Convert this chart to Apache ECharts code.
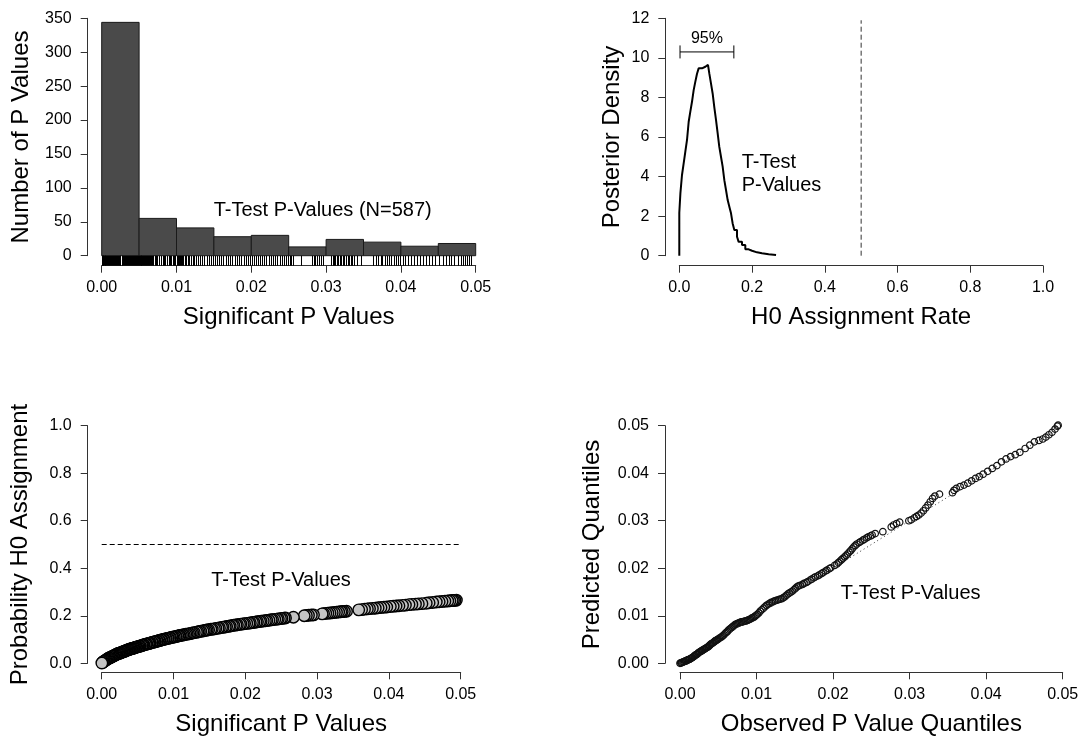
<!DOCTYPE html>
<html>
<head>
<meta charset="utf-8">
<title>P-value analysis</title>
<script src="https://cdn.jsdelivr.net/npm/echarts@6/dist/echarts.min.js"></script>
<style>
html, body { margin: 0; padding: 0; background: #fff; }
#main { width: 1082px; height: 736px; }
</style>
</head>
<body>
<div id="main"></div>
<script>
// histogram of significant p values
var binEdges = [0, 0.005, 0.01, 0.015, 0.02, 0.025, 0.03, 0.035, 0.04, 0.045, 0.05];
var binCounts = [344, 55, 41, 28, 30, 13, 24, 20, 14, 18];

// rug under the histogram (individual p values)
var rugP = [
    0.00002, 0.00008, 0.00015, 0.00021, 0.00030, 0.00041, 0.00050, 0.00063, 0.00072, 0.00085,
    0.00097, 0.00110, 0.00121, 0.00136, 0.00149, 0.00160, 0.00173, 0.00188, 0.00199, 0.00212,
    0.00226, 0.00238, 0.00251, 0.00265, 0.00277, 0.00290, 0.00304, 0.00316, 0.00329, 0.00343,
    0.00356, 0.00368, 0.00381, 0.00395, 0.00408, 0.00421, 0.00433, 0.00447, 0.00459, 0.00472,
    0.00486, 0.00498,
    0.00508, 0.00519, 0.00531, 0.00544, 0.00556, 0.00567, 0.00581, 0.00594, 0.00605, 0.00619,
    0.00633, 0.00648, 0.00662, 0.00675, 0.00690, 0.00712, 0.00728, 0.00745, 0.00768, 0.00790,
    0.00822, 0.00835, 0.00851, 0.00872, 0.00895, 0.00916, 0.00931, 0.00948, 0.00967, 0.00985,
    0.01003, 0.01018, 0.01031, 0.01046, 0.01062, 0.01079, 0.01093, 0.01112, 0.01131, 0.01150,
    0.01172, 0.01195, 0.01216, 0.01240, 0.01262, 0.01290, 0.01315, 0.01342, 0.01370, 0.01402,
    0.01431, 0.01463, 0.01488,
    0.01512, 0.01540, 0.01572, 0.01601, 0.01626, 0.01660, 0.01689, 0.01712, 0.01745, 0.01778,
    0.01806, 0.01838, 0.01867, 0.01896, 0.01928, 0.01955, 0.01984,
    0.02008, 0.02035, 0.02061, 0.02093, 0.02118, 0.02146, 0.02172, 0.02201, 0.02232, 0.02258,
    0.02290, 0.02318, 0.02347, 0.02381, 0.02412, 0.02440, 0.02468, 0.02490,
    0.02512, 0.02535, 0.02559, 0.02668, 0.02816, 0.02834, 0.02852, 0.02875, 0.02903, 0.02938,
    0.02955,
    0.03072, 0.03090, 0.03105, 0.03121, 0.03143, 0.03162, 0.03180, 0.03204, 0.03222, 0.03245,
    0.03268, 0.03289, 0.03310, 0.03331, 0.03352, 0.03378, 0.03412, 0.03462,
    0.03632, 0.03661, 0.03695, 0.03728, 0.03754, 0.03786, 0.03812, 0.03847, 0.03871, 0.03905,
    0.03938, 0.03966, 0.03992,
    0.04025, 0.04061, 0.04098, 0.04136, 0.04172, 0.04215, 0.04251, 0.04290, 0.04332, 0.04371,
    0.04418, 0.04462,
    0.04512, 0.04560, 0.04598, 0.04641, 0.04676, 0.04712, 0.04760, 0.04802, 0.04836, 0.04861,
    0.04890, 0.04915, 0.04941
];

// posterior density of the H0 assignment rate (step line)
var densityX = [0, 0, 0.003, 0.0074, 0.012, 0.0166, 0.0212, 0.0258, 0.0303, 0.0349, 0.0395,
    0.0441, 0.0487, 0.0532, 0.0578, 0.0624, 0.067, 0.0716, 0.0789, 0.0826, 0.0872, 0.0917,
    0.0963, 0.1009, 0.1055, 0.11, 0.1146, 0.1192, 0.1238, 0.1284, 0.133, 0.1376, 0.1422,
    0.1467, 0.1513, 0.1587, 0.1632, 0.1724, 0.1815, 0.1907, 0.1999, 0.2137, 0.2274, 0.2457, 0.266];
var densityY = [0, 2.17, 3.15, 4.08, 4.67, 5.26, 5.85, 6.77, 7.28, 7.78, 8.37,
    8.8, 9.2, 9.47, 9.47, 9.55, 9.55, 9.65, 9.72, 9.2, 8.7, 8.2,
    7.5, 6.86, 6.18, 5.5, 5.0, 4.5, 3.82, 3.32, 2.81, 2.48, 2.14,
    1.63, 1.3, 0.96, 0.7, 0.54, 0.32, 0.25, 0.17, 0.12, 0.07, 0.03, 0.01];
var ciInterval = [0.002, 0.150];
var ciHeight = 10.3;
var refRate = 0.5;

// probability of H0 assignment per p value
var h0Points = [
    [0.00002, 0.001], [0.0001, 0.003], [0.0002, 0.006], [0.0003, 0.008], [0.0004, 0.010],
    [0.0005, 0.012], [0.0006, 0.014], [0.0007, 0.016], [0.0008, 0.018], [0.0009, 0.020],
    [0.0010, 0.022], [0.0011, 0.023], [0.0012, 0.025], [0.0013, 0.026], [0.0014, 0.028],
    [0.0015, 0.029], [0.0016, 0.031], [0.0017, 0.032], [0.0018, 0.034], [0.0019, 0.035],
    [0.0020, 0.037], [0.0021, 0.038], [0.0022, 0.040], [0.0023, 0.041], [0.0024, 0.042],
    [0.0025, 0.043], [0.0026, 0.044], [0.0027, 0.045], [0.0028, 0.047], [0.0029, 0.048],
    [0.0030, 0.049], [0.0031, 0.050], [0.0032, 0.051], [0.0033, 0.052], [0.0034, 0.054],
    [0.0035, 0.055], [0.0036, 0.056], [0.0037, 0.057], [0.0038, 0.058], [0.0039, 0.059],
    [0.0040, 0.060], [0.0041, 0.061], [0.0042, 0.062], [0.0043, 0.063], [0.0044, 0.064],
    [0.0045, 0.065], [0.0046, 0.066], [0.0047, 0.067], [0.0048, 0.068], [0.0049, 0.069],
    [0.00505, 0.070], [0.0052, 0.072], [0.0053, 0.072], [0.0054, 0.073], [0.0056, 0.075],
    [0.0057, 0.076], [0.0058, 0.077], [0.0059, 0.078], [0.0061, 0.080], [0.0062, 0.080],
    [0.0063, 0.081], [0.0065, 0.083], [0.0066, 0.084], [0.0067, 0.085], [0.0068, 0.086],
    [0.0070, 0.088], [0.0071, 0.088], [0.0073, 0.090], [0.0074, 0.091], [0.0075, 0.091],
    [0.0077, 0.093], [0.0078, 0.094], [0.0080, 0.096], [0.0081, 0.096], [0.0083, 0.098],
    [0.0084, 0.099], [0.0086, 0.100], [0.0087, 0.101], [0.0089, 0.103], [0.0090, 0.104],
    [0.0092, 0.105], [0.0093, 0.106], [0.0095, 0.107], [0.0096, 0.108], [0.0098, 0.110],
    [0.0099, 0.110],
    [0.0101, 0.111], [0.0103, 0.113], [0.0104, 0.113], [0.0106, 0.115], [0.0108, 0.116],
    [0.0109, 0.117], [0.0111, 0.118], [0.0113, 0.119], [0.0115, 0.120], [0.0117, 0.122],
    [0.0119, 0.123], [0.0121, 0.124], [0.0123, 0.125], [0.0125, 0.127], [0.0127, 0.128],
    [0.0129, 0.129], [0.0132, 0.131], [0.0134, 0.132], [0.0136, 0.134], [0.0138, 0.135],
    [0.0141, 0.136], [0.0143, 0.138], [0.0145, 0.139], [0.0147, 0.140], [0.0149, 0.141],
    [0.0152, 0.143], [0.0154, 0.144], [0.0157, 0.145], [0.0159, 0.147], [0.0162, 0.148],
    [0.0164, 0.149], [0.0167, 0.151], [0.0169, 0.152], [0.0172, 0.153], [0.0174, 0.155],
    [0.0177, 0.156], [0.0179, 0.157], [0.0182, 0.159], [0.0184, 0.160], [0.0187, 0.161],
    [0.0189, 0.162], [0.0192, 0.164], [0.0194, 0.165], [0.0197, 0.166], [0.0199, 0.167],
    [0.0202, 0.168], [0.0205, 0.169], [0.0207, 0.170], [0.0210, 0.172], [0.0212, 0.172],
    [0.0215, 0.174], [0.0217, 0.175], [0.0220, 0.176], [0.0222, 0.177], [0.0225, 0.178],
    [0.0228, 0.179], [0.0230, 0.180], [0.0233, 0.181], [0.0236, 0.183], [0.0238, 0.184],
    [0.0241, 0.185], [0.0244, 0.186], [0.0246, 0.187], [0.0249, 0.188],
    [0.0251, 0.189], [0.0254, 0.190], [0.0256, 0.191], [0.0267, 0.194], [0.0282, 0.200],
    [0.0285, 0.201], [0.0288, 0.202], [0.0292, 0.203], [0.0295, 0.204], [0.0307, 0.208],
    [0.0309, 0.209], [0.0312, 0.210], [0.0315, 0.211], [0.0318, 0.212], [0.0321, 0.213],
    [0.0324, 0.214], [0.0327, 0.215], [0.0330, 0.216], [0.0333, 0.217], [0.0335, 0.218],
    [0.0338, 0.218], [0.0341, 0.219], [0.0358, 0.225], [0.0362, 0.226], [0.0366, 0.228],
    [0.0370, 0.229], [0.0373, 0.230], [0.0377, 0.231], [0.0381, 0.232], [0.0385, 0.234],
    [0.0389, 0.235], [0.0393, 0.236], [0.0397, 0.237], [0.0402, 0.239], [0.0406, 0.240],
    [0.0410, 0.241], [0.0414, 0.242], [0.0419, 0.244], [0.0423, 0.245], [0.0428, 0.247],
    [0.0432, 0.248], [0.0437, 0.249], [0.0441, 0.250], [0.0446, 0.251], [0.0452, 0.253],
    [0.0456, 0.255], [0.0461, 0.256], [0.0466, 0.258], [0.0470, 0.259], [0.0474, 0.260],
    [0.0478, 0.261], [0.0482, 0.262], [0.0485, 0.263], [0.0488, 0.264], [0.0490, 0.265],
    [0.0492, 0.265], [0.0494, 0.266]
];

// observed vs predicted quantiles
var qqPoints = [
    [0.0000, 0.0000], [0.0001, 0.0001], [0.0002, 0.0001], [0.0003, 0.0002], [0.0004, 0.0003],
    [0.0005, 0.0003], [0.0006, 0.0004], [0.0007, 0.0005], [0.0008, 0.0005], [0.0009, 0.0006],
    [0.0010, 0.0007], [0.0011, 0.0008], [0.0012, 0.0008], [0.0013, 0.0009], [0.0014, 0.0010],
    [0.0015, 0.0011], [0.0016, 0.0012], [0.0017, 0.0013], [0.0018, 0.0014], [0.0019, 0.0016],
    [0.0020, 0.0017], [0.0021, 0.0018], [0.0022, 0.0019], [0.0023, 0.0020], [0.0024, 0.0022],
    [0.0025, 0.0023], [0.0026, 0.0024], [0.0027, 0.0025], [0.0028, 0.0026], [0.0029, 0.0027],
    [0.0030, 0.0028], [0.0031, 0.0029], [0.0032, 0.0030], [0.0033, 0.0031], [0.0034, 0.0032],
    [0.0035, 0.0033], [0.0036, 0.0034], [0.0037, 0.0035], [0.0038, 0.0037], [0.0039, 0.0038],
    [0.0040, 0.0040], [0.0041, 0.0041], [0.0042, 0.0042], [0.0043, 0.0043], [0.0044, 0.0044],
    [0.0045, 0.0046], [0.0046, 0.0047], [0.0047, 0.0048], [0.0048, 0.0049], [0.0049, 0.0050],
    [0.0050, 0.0051], [0.00515, 0.0053], [0.0053, 0.0054], [0.00545, 0.0056], [0.0056, 0.0058],
    [0.00575, 0.0060], [0.0059, 0.0063], [0.00605, 0.0065], [0.0062, 0.0067], [0.00635, 0.0070],
    [0.0065, 0.0072], [0.00665, 0.0074], [0.0068, 0.0076], [0.00695, 0.0078], [0.0071, 0.0080],
    [0.00725, 0.0082], [0.0074, 0.0083], [0.00755, 0.0084], [0.0077, 0.0085], [0.00785, 0.0086],
    [0.0080, 0.0087], [0.00815, 0.0087], [0.0083, 0.0088], [0.00845, 0.0089], [0.0086, 0.0089],
    [0.00875, 0.0090], [0.0089, 0.0091], [0.00905, 0.0092], [0.0092, 0.0093], [0.00935, 0.0095],
    [0.0095, 0.0096], [0.00965, 0.0097], [0.0098, 0.0099], [0.00995, 0.0101],
    [0.0101, 0.0103], [0.0103, 0.0106], [0.0105, 0.0110], [0.0107, 0.0113], [0.0109, 0.0116],
    [0.0111, 0.0119], [0.0113, 0.0122], [0.0115, 0.0124], [0.0117, 0.0126], [0.0119, 0.0128],
    [0.0121, 0.0129], [0.0123, 0.0131], [0.0125, 0.0132], [0.0127, 0.0133], [0.0129, 0.0134],
    [0.0131, 0.0135], [0.0133, 0.0136], [0.0135, 0.0138], [0.0137, 0.0140], [0.0139, 0.0143],
    [0.0141, 0.0146], [0.0143, 0.0148], [0.0145, 0.0150], [0.0147, 0.0152], [0.0149, 0.0155],
    [0.0151, 0.0158], [0.0153, 0.0161], [0.0155, 0.0163], [0.0157, 0.0164], [0.0160, 0.0166],
    [0.0162, 0.0168], [0.0165, 0.0170], [0.0167, 0.0172], [0.0170, 0.0175], [0.0172, 0.0177],
    [0.0175, 0.0180], [0.0177, 0.0182], [0.0180, 0.0184], [0.0182, 0.0186], [0.0185, 0.0189],
    [0.0187, 0.0191], [0.0190, 0.0194], [0.0192, 0.0196], [0.0195, 0.0199], [0.0197, 0.0201],
    [0.0202, 0.0206], [0.0205, 0.0209], [0.0207, 0.0212], [0.0209, 0.0215], [0.0211, 0.0218],
    [0.0213, 0.0221], [0.0215, 0.0224], [0.0217, 0.0227], [0.0219, 0.0230], [0.0221, 0.0234],
    [0.0223, 0.0237], [0.0225, 0.0241], [0.0227, 0.0245], [0.0229, 0.0248], [0.0231, 0.0251],
    [0.0234, 0.0254], [0.0236, 0.0256], [0.0239, 0.0259], [0.0241, 0.0261], [0.0244, 0.0264],
    [0.0246, 0.0266], [0.0249, 0.0268], [0.0251, 0.0270], [0.0255, 0.0273], [0.0265, 0.0277],
    [0.0276, 0.0287], [0.0279, 0.0291], [0.0283, 0.0294], [0.0287, 0.0297], [0.0299, 0.0300],
    [0.0302, 0.0302], [0.0306, 0.0306], [0.0309, 0.0309], [0.0312, 0.0312], [0.0315, 0.0316],
    [0.0318, 0.0321], [0.0321, 0.0327], [0.0324, 0.0333], [0.0327, 0.0340], [0.0330, 0.0347],
    [0.0333, 0.0352], [0.0339, 0.0356], [0.0356, 0.0359], [0.0358, 0.0364], [0.0361, 0.0368],
    [0.0366, 0.0372], [0.0371, 0.0375], [0.0376, 0.0379], [0.0381, 0.0384], [0.0386, 0.0389],
    [0.0391, 0.0393], [0.0396, 0.0398], [0.0402, 0.0404], [0.0408, 0.0410], [0.0414, 0.0416],
    [0.0420, 0.0424], [0.0426, 0.0430], [0.0432, 0.0435], [0.0438, 0.0439], [0.0444, 0.0444],
    [0.0451, 0.0452], [0.0457, 0.0459], [0.0463, 0.0466], [0.0469, 0.0469], [0.0474, 0.0472],
    [0.0478, 0.0476], [0.0482, 0.0481], [0.0486, 0.0486], [0.0490, 0.0493], [0.0493, 0.0499],
    [0.0494, 0.0501]
];
var qqDiagonal = [-0.0022, 0.0523];

var FONT = 'Liberation Sans';
var AXIS_COLOR = '#333';

// 坐标轴 (R 风格：轴线与绘图区分离)
function makeAxis(gridIndex, min, max, interval, digits, name, nameGap, offset, isY) {
    return {
        type: 'value',
        gridIndex: gridIndex,
        min: min,
        max: max,
        interval: interval,
        offset: offset,
        name: name,
        nameLocation: 'middle',
        nameGap: nameGap,
        nameMoveOverlap: false,
        nameTextStyle: { fontSize: 24, color: '#000', fontFamily: FONT },
        axisLine: { show: true, onZero: false, lineStyle: { color: AXIS_COLOR, width: 1 } },
        axisTick: { show: true, length: 7, lineStyle: { color: AXIS_COLOR, width: 1 } },
        axisLabel: {
            fontSize: 16,
            color: '#000',
            fontFamily: FONT,
            margin: isY ? 16 : 14,
            formatter: function (v) { return v.toFixed(digits); }
        },
        splitLine: { show: false }
    };
}

function textStyle(x, y, text, align) {
    return {
        type: 'text',
        style: {
            x: x, y: y, text: text, fill: '#000',
            font: '20px "' + FONT + '"', lineHeight: 22.5,
            textAlign: align, textVerticalAlign: 'middle'
        }
    };
}

function initChart() {
    var myChart = echarts.init(document.getElementById('main'));

    var histData = binCounts.map(function (c, i) { return [binEdges[i], binEdges[i + 1], c]; });
    var densityData = densityX.map(function (x, i) { return [x, densityY[i]]; });
    // 左侧的点画在上层
    var h0Draw = h0Points.slice().reverse();

    var option = {
        animation: false,
        backgroundColor: '#fff',
        grid: [
            { left: 101.7, top: 18.3, width: 374, height: 237.4, outerBoundsMode: 'none' },
            { left: 679.3, top: 18.3, width: 363.7, height: 237.4, outerBoundsMode: 'none' },
            { left: 101.7, top: 425.7, width: 359, height: 237.6, outerBoundsMode: 'none' },
            { left: 680, top: 425.7, width: 382.7, height: 237.6, outerBoundsMode: 'none' }
        ],
        xAxis: [
            makeAxis(0, 0, 0.05, 0.01, 2, 'Significant P Values', 40, 10, false),
            makeAxis(1, 0, 1, 0.2, 1, 'H0 Assignment Rate', 40, 10, false),
            makeAxis(2, 0, 0.05, 0.01, 2, 'Significant P Values', 40, 9, false),
            makeAxis(3, 0, 0.05, 0.01, 2, 'Observed P Value Quantiles', 40, 9, false)
        ],
        yAxis: [
            makeAxis(0, 0, 350, 50, 0, 'Number of P Values', 54, 14, true),
            makeAxis(1, 0, 12, 2, 0, 'Posterior Density', 41, 14, true),
            makeAxis(2, 0, 1, 0.2, 1, 'Probability H0 Assignment', 55, 14, true),
            makeAxis(3, 0, 0.05, 0.01, 2, 'Predicted Quantiles', 61, 15, true)
        ],
        series: [
            {
                type: 'custom',
                xAxisIndex: 0, yAxisIndex: 0,
                data: histData,
                encode: { x: [0, 1], y: 2 },
                renderItem: function (params, api) {
                    var a = api.coord([api.value(0), api.value(2)]);
                    var b = api.coord([api.value(1), 0]);
                    return {
                        type: 'rect',
                        shape: { x: a[0], y: a[1], width: b[0] - a[0], height: b[1] - a[1] },
                        style: { fill: '#4a4a4a', stroke: '#1a1a1a', lineWidth: 1 }
                    };
                }
            },
            {
                type: 'custom',
                xAxisIndex: 0, yAxisIndex: 0,
                clip: false,
                data: rugP.map(function (p) { return [p]; }),
                encode: { x: 0 },
                renderItem: function (params, api) {
                    var p = api.coord([api.value(0), 0]);
                    var x = Math.round(p[0]) + 0.5;
                    return {
                        type: 'line',
                        shape: { x1: x, y1: p[1], x2: x, y2: p[1] + 10 },
                        style: { stroke: '#000', lineWidth: 1 }
                    };
                }
            },
            {
                type: 'line',
                xAxisIndex: 1, yAxisIndex: 1,
                data: densityData,
                step: 'end',
                symbol: 'none',
                lineStyle: { color: '#000', width: 2 }
            },
            {
                type: 'line',
                xAxisIndex: 1, yAxisIndex: 1,
                data: [[refRate, 0], [refRate, 11.9]],
                symbol: 'none',
                lineStyle: { color: '#333', width: 1, type: [5, 3] }
            },
            {
                type: 'custom',
                xAxisIndex: 1, yAxisIndex: 1,
                clip: false,
                data: [[ciInterval[0], ciInterval[1], ciHeight]],
                encode: { x: [0, 1], y: 2 },
                renderItem: function (params, api) {
                    var a = api.coord([api.value(0), api.value(2)]);
                    var b = api.coord([api.value(1), api.value(2)]);
                    var s = { stroke: '#000', lineWidth: 1 };
                    return {
                        type: 'group',
                        children: [
                            { type: 'line', shape: { x1: a[0], y1: a[1], x2: b[0], y2: b[1] }, style: s },
                            { type: 'line', shape: { x1: a[0], y1: a[1] - 6.5, x2: a[0], y2: a[1] + 6.5 }, style: s },
                            { type: 'line', shape: { x1: b[0], y1: b[1] - 6.5, x2: b[0], y2: b[1] + 6.5 }, style: s },
                            {
                                type: 'text',
                                style: {
                                    x: (a[0] + b[0]) / 2, y: a[1] - 13,
                                    text: '95%', fill: '#000',
                                    font: '16px "' + FONT + '"',
                                    textAlign: 'center', textVerticalAlign: 'middle'
                                }
                            }
                        ]
                    };
                }
            },
            {
                type: 'line',
                xAxisIndex: 2, yAxisIndex: 2,
                data: [[0, refRate], [0.05, refRate]],
                symbol: 'none',
                lineStyle: { color: '#000', width: 1, type: [5, 3] }
            },
            {
                type: 'scatter',
                xAxisIndex: 2, yAxisIndex: 2,
                data: h0Draw,
                symbolSize: 11.5,
                clip: false,
                itemStyle: { color: '#c4c4c4', borderColor: '#000', borderWidth: 1.4, opacity: 1 }
            },
            {
                type: 'line',
                xAxisIndex: 3, yAxisIndex: 3,
                data: [[qqDiagonal[0], qqDiagonal[0]], [qqDiagonal[1], qqDiagonal[1]]],
                symbol: 'none',
                clip: false,
                lineStyle: { color: '#333', width: 1, type: [1, 3] }
            },
            {
                type: 'scatter',
                xAxisIndex: 3, yAxisIndex: 3,
                data: qqPoints,
                symbolSize: 6.5,
                clip: false,
                itemStyle: { color: 'rgba(0,0,0,0)', borderColor: '#111', borderWidth: 1.2, opacity: 1 }
            }
        ],
        graphic: [
            textStyle(322.7, 210, 'T-Test P-Values (N=587)', 'center'),
            textStyle(741.7, 174, 'T-Test\nP-Values', 'left'),
            textStyle(281, 580.7, 'T-Test P-Values', 'center'),
            textStyle(910.7, 593.3, 'T-Test P-Values', 'center')
        ]
    };

    myChart.setOption(option);
}

initChart();
</script>
</body>
</html>
